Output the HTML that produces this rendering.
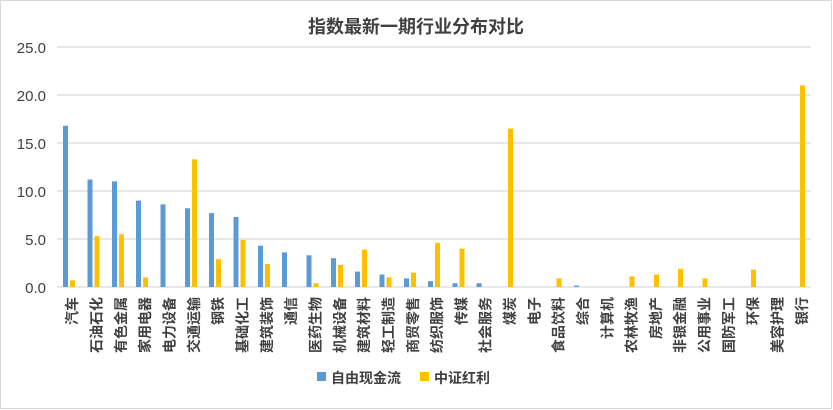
<!DOCTYPE html><html><head><meta charset="utf-8"><style>body{margin:0;background:#fff}svg{display:block}</style></head><body>
<svg width="833" height="410" xmlns="http://www.w3.org/2000/svg" font-family="Liberation Sans, Noto Sans CJK SC, sans-serif">
<rect x="0.5" y="0.5" width="831" height="408" fill="#fff" stroke="#d9d9d9"/>
<text x="416" y="33" text-anchor="middle" font-size="18" font-weight="bold" fill="#404040">指数最新一期行业分布对比</text>
<g stroke="#d9d9d9" stroke-width="1.3">
<line x1="57" x2="811" y1="47" y2="47"/><line x1="57" x2="811" y1="95" y2="95"/><line x1="57" x2="811" y1="143" y2="143"/><line x1="57" x2="811" y1="191" y2="191"/><line x1="57" x2="811" y1="239" y2="239"/><line x1="57" x2="811" y1="287" y2="287"/>
</g>
<g font-size="15" fill="#404040" text-anchor="end">
<text x="46" y="53">25.0</text><text x="46" y="101">20.0</text><text x="46" y="149">15.0</text><text x="46" y="197">10.0</text><text x="46" y="245">5.0</text><text x="46" y="293">0.0</text>
</g>
<g fill="#5B9BD5">
<rect x="63" y="125.7" width="5" height="161.3"/>
<rect x="87.5" y="179.5" width="5" height="107.5"/>
<rect x="112" y="181.4" width="5" height="105.6"/>
<rect x="136" y="200.6" width="5" height="86.4"/>
<rect x="160.5" y="204.4" width="5" height="82.6"/>
<rect x="185" y="208.3" width="5" height="78.7"/>
<rect x="209" y="213.1" width="5" height="73.9"/>
<rect x="233.5" y="216.9" width="5" height="70.1"/>
<rect x="258" y="245.7" width="5" height="41.3"/>
<rect x="282" y="252.4" width="5" height="34.6"/>
<rect x="306.5" y="255.3" width="5" height="31.7"/>
<rect x="331" y="258.2" width="5" height="28.8"/>
<rect x="355" y="271.6" width="5" height="15.4"/>
<rect x="379.5" y="274.5" width="5" height="12.5"/>
<rect x="404" y="278.4" width="5" height="8.6"/>
<rect x="428" y="281.2" width="5" height="5.8"/>
<rect x="452.5" y="283.2" width="5" height="3.8"/>
<rect x="476.5" y="283.2" width="5" height="3.8"/>
<rect x="574" y="285.6" width="5" height="1.4"/>
</g>
<g fill="#FFC000">
<rect x="70" y="280.3" width="5" height="6.7"/>
<rect x="94.5" y="236.1" width="5" height="50.9"/>
<rect x="119" y="234.2" width="5" height="52.8"/>
<rect x="143" y="277.4" width="5" height="9.6"/>
<rect x="192" y="159.3" width="5" height="127.7"/>
<rect x="216" y="259.2" width="5" height="27.8"/>
<rect x="240.5" y="240" width="5" height="47"/>
<rect x="265" y="264" width="5" height="23"/>
<rect x="313.5" y="283.2" width="5" height="3.8"/>
<rect x="338" y="264.9" width="5" height="22.1"/>
<rect x="362" y="249.6" width="5" height="37.4"/>
<rect x="386.5" y="277.4" width="5" height="9.6"/>
<rect x="411" y="272.6" width="5" height="14.4"/>
<rect x="435" y="242.8" width="5" height="44.2"/>
<rect x="459.5" y="248.6" width="5" height="38.4"/>
<rect x="508" y="128.6" width="5" height="158.4"/>
<rect x="556.5" y="278.4" width="5" height="8.6"/>
<rect x="629.5" y="276.4" width="5" height="10.6"/>
<rect x="654" y="274.5" width="5" height="12.5"/>
<rect x="678" y="268.8" width="5" height="18.2"/>
<rect x="702.5" y="278.4" width="5" height="8.6"/>
<rect x="751" y="269.7" width="5" height="17.3"/>
<rect x="800" y="85.4" width="5" height="201.6"/>
</g>
<g font-size="14" font-weight="bold" fill="#404040" text-anchor="end">
<text transform="translate(77,297) rotate(-90)">汽车</text>
<text transform="translate(101.5,297) rotate(-90)">石油石化</text>
<text transform="translate(126,297) rotate(-90)">有色金属</text>
<text transform="translate(150,297) rotate(-90)">家用电器</text>
<text transform="translate(174.5,297) rotate(-90)">电力设备</text>
<text transform="translate(199,297) rotate(-90)">交通运输</text>
<text transform="translate(223,297) rotate(-90)">钢铁</text>
<text transform="translate(247.5,297) rotate(-90)">基础化工</text>
<text transform="translate(272,297) rotate(-90)">建筑装饰</text>
<text transform="translate(296,297) rotate(-90)">通信</text>
<text transform="translate(320.5,297) rotate(-90)">医药生物</text>
<text transform="translate(345,297) rotate(-90)">机械设备</text>
<text transform="translate(369,297) rotate(-90)">建筑材料</text>
<text transform="translate(393.5,297) rotate(-90)">轻工制造</text>
<text transform="translate(418,297) rotate(-90)">商贸零售</text>
<text transform="translate(442,297) rotate(-90)">纺织服饰</text>
<text transform="translate(466.5,297) rotate(-90)">传媒</text>
<text transform="translate(490.5,297) rotate(-90)">社会服务</text>
<text transform="translate(515,297) rotate(-90)">煤炭</text>
<text transform="translate(539.5,297) rotate(-90)">电子</text>
<text transform="translate(563.5,297) rotate(-90)">食品饮料</text>
<text transform="translate(588,297) rotate(-90)">综合</text>
<text transform="translate(612.5,297) rotate(-90)">计算机</text>
<text transform="translate(636.5,297) rotate(-90)">农林牧渔</text>
<text transform="translate(661,297) rotate(-90)">房地产</text>
<text transform="translate(685,297) rotate(-90)">非银金融</text>
<text transform="translate(709.5,297) rotate(-90)">公用事业</text>
<text transform="translate(734,297) rotate(-90)">国防军工</text>
<text transform="translate(758,297) rotate(-90)">环保</text>
<text transform="translate(782.5,297) rotate(-90)">美容护理</text>
<text transform="translate(807,297) rotate(-90)">银行</text>
</g>
<rect x="317" y="372" width="9" height="9" fill="#5B9BD5"/><text x="331" y="383" font-size="14" font-weight="bold" fill="#404040">自由现金流</text>
<rect x="420" y="372" width="9" height="9" fill="#FFC000"/><text x="434" y="383" font-size="14" font-weight="bold" fill="#404040">中证红利</text>
</svg></body></html>
